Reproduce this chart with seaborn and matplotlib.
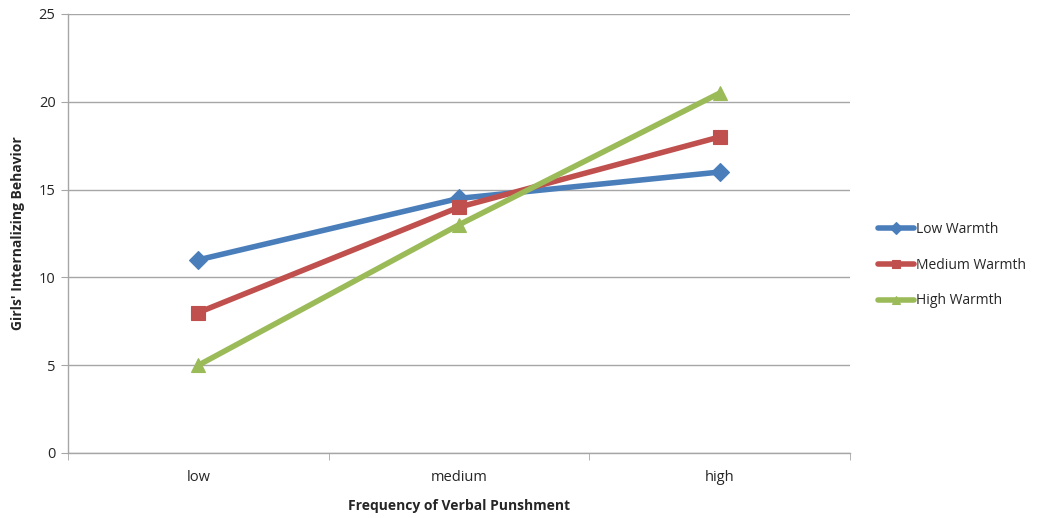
import pandas as pd
import seaborn as sns
import matplotlib.pyplot as plt
from matplotlib.ticker import FixedLocator

categories = ['low', 'medium', 'high']
low_warmth = [11, 14.5, 16]
medium_warmth = [8, 14, 18]
high_warmth = [5, 13, 20.5]
series_names = ['Low Warmth', 'Medium Warmth', 'High Warmth']

rows = []
for name, vals in zip(series_names, [low_warmth, medium_warmth, high_warmth]):
    for cat, v in zip(categories, vals):
        rows.append({'Frequency': cat, 'Value': v, 'Series': name})
data = pd.DataFrame(rows)

sns.set_style('white')
plt.rcParams['font.family'] = ['Open Sans', 'DejaVu Sans']

colors = {'Low Warmth': '#4a7ebb', 'Medium Warmth': '#c0504d', 'High Warmth': '#9bbb59'}
markers = {'Low Warmth': 'D', 'Medium Warmth': 's', 'High Warmth': '^'}

fig = plt.figure(figsize=(10.47, 5.18), dpi=100)
ax = fig.add_axes([0.065, 0.1255, 0.747, 0.8475])

sns.lineplot(data=data, x='Frequency', y='Value', hue='Series', style='Series',
             palette=colors, markers=markers, dashes=False, linewidth=4,
             markersize=10, markeredgewidth=0.8, ax=ax)
for line in ax.lines:
    line.set_markeredgecolor(line.get_color())
ax.lines[0].set_markersize(9)

ax.set_xlim(-0.5, 2.5)
ax.set_ylim(0, 25)
ax.set_yticks([0, 5, 10, 15, 20, 25])
ax.yaxis.grid(True, color='#a6a6a6', linewidth=1)
ax.set_axisbelow(True)
for s in ['top', 'right']:
    ax.spines[s].set_visible(False)
for s in ['left', 'bottom']:
    ax.spines[s].set_color('#a6a6a6')
    ax.spines[s].set_linewidth(1)

ax.xaxis.set_minor_locator(FixedLocator([-0.5, 0.5, 1.5, 2.5]))
ax.tick_params(axis='x', which='major', length=0, labelsize=10.5, pad=12)
ax.tick_params(axis='x', which='minor', length=5, color='#a6a6a6', direction='out', bottom=True)
ax.tick_params(axis='y', length=5, color='#a6a6a6', direction='out', left=True, labelsize=10.5, pad=4)

ax.set_xlabel('Frequency of Verbal Punshment', fontsize=10, fontweight='bold', labelpad=10)
ax.set_ylabel("Girls' Internalizing Behavior", fontsize=10, fontweight='bold', labelpad=10)

leg = ax.legend(loc='center left', bbox_to_anchor=(1.036, 0.428), frameon=False,
                fontsize=10, labelspacing=1.5, handlelength=2.6, handletextpad=0.1,
                markerscale=0.6, borderpad=0, borderaxespad=0)

fig.savefig('out.png', dpi=100)
